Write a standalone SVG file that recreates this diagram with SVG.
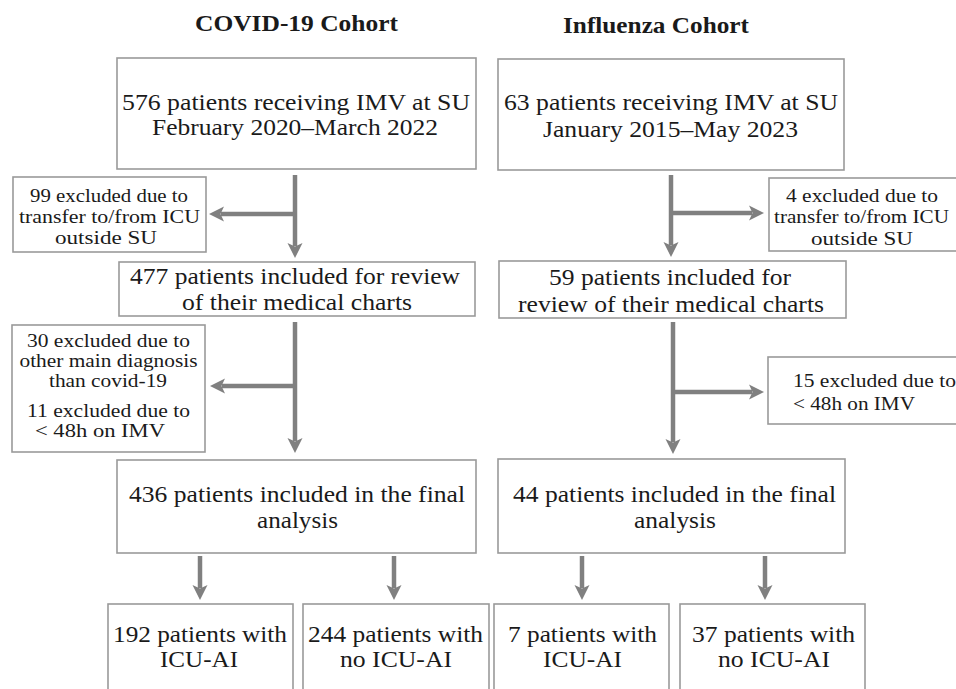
<svg xmlns="http://www.w3.org/2000/svg" width="956" height="689" viewBox="0 0 956 689">
<defs>
<style>
.box{fill:#fff;stroke:#9a9a9a;stroke-width:1.6}
text{font-family:"Liberation Serif","Times New Roman",serif;fill:#1a1a1a;text-anchor:middle}
.t{font-size:23px}
.s{font-size:19px}
.x{font-size:18px}
.sl{text-anchor:start}
.h{font-size:23.5px;font-weight:bold}
.a{stroke:#808080;stroke-width:4.5;fill:none;marker-end:url(#ah)}
</style>
<marker id="ah" markerUnits="userSpaceOnUse" markerWidth="16" markerHeight="16" viewBox="0 -8 16 16" refX="3" refY="0" orient="auto">
<path d="M0,-7.5 L15,0 L0,7.5 L3.5,0 Z" fill="#808080"/>
</marker>
</defs>
<rect width="956" height="689" fill="#fff"/>
<text class="h" x="296.5" y="31" textLength="203" lengthAdjust="spacingAndGlyphs">COVID-19 Cohort</text>
<text class="h" x="656" y="33" textLength="186" lengthAdjust="spacingAndGlyphs">Influenza Cohort</text>

<g id="connectors">
<path class="a" d="M295,175 V246"/>
<path class="a" d="M295,214 H221"/>
<path class="a" d="M295,322 V441"/>
<path class="a" d="M295,386 H222"/>
<path class="a" d="M671,175 V245"/>
<path class="a" d="M671,213 H752"/>
<path class="a" d="M673,322 V442"/>
<path class="a" d="M673,392 H752"/>
<path class="a" d="M200,556 V588"/>
<path class="a" d="M394,556 V588"/>
<path class="a" d="M582,556 V588"/>
<path class="a" d="M765,556 V588"/>
</g>

<g id="covid-start">
<rect class="box" x="117" y="58" width="359" height="111"/>
<text class="t" x="296" y="110" textLength="348" lengthAdjust="spacingAndGlyphs">576 patients receiving IMV at SU</text>
<text class="t" x="295" y="135" textLength="286" lengthAdjust="spacingAndGlyphs">February 2020–March 2022</text>
</g>
<g id="flu-start">
<rect class="box" x="498" y="59" width="346" height="111"/>
<text class="t" x="671" y="110" textLength="334" lengthAdjust="spacingAndGlyphs">63 patients receiving IMV at SU</text>
<text class="t" x="670.5" y="137" textLength="255" lengthAdjust="spacingAndGlyphs">January 2015–May 2023</text>
</g>
<g id="covid-excl1">
<rect class="box" x="13" y="177" width="193" height="75"/>
<text class="s" x="109" y="202" textLength="158" lengthAdjust="spacingAndGlyphs">99 excluded due to</text>
<text class="s" x="109.5" y="223" textLength="181" lengthAdjust="spacingAndGlyphs">transfer to/from ICU</text>
<text class="s" x="106" y="244" textLength="102" lengthAdjust="spacingAndGlyphs">outside SU</text>
</g>
<g id="flu-excl1">
<rect class="box" x="769" y="178" width="200" height="73"/>
<text class="s" x="862" y="202" textLength="152" lengthAdjust="spacingAndGlyphs">4 excluded due to</text>
<text class="s" x="861.5" y="223" textLength="175" lengthAdjust="spacingAndGlyphs">transfer to/from ICU</text>
<text class="s" x="862" y="245" textLength="102" lengthAdjust="spacingAndGlyphs">outside SU</text>
</g>
<g id="covid-review">
<rect class="box" x="119" y="262" width="356" height="54"/>
<text class="t" x="295" y="284" textLength="330" lengthAdjust="spacingAndGlyphs">477 patients included for review</text>
<text class="t" x="297" y="310" textLength="230" lengthAdjust="spacingAndGlyphs">of their medical charts</text>
</g>
<g id="flu-review">
<rect class="box" x="499" y="261" width="347" height="57"/>
<text class="t" x="670" y="285" textLength="242" lengthAdjust="spacingAndGlyphs">59 patients included for</text>
<text class="t" x="671" y="312" textLength="306" lengthAdjust="spacingAndGlyphs">review of their medical charts</text>
</g>
<g id="covid-excl2">
<rect class="box" x="12" y="325" width="193" height="127"/>
<text class="x" x="108.5" y="347" textLength="163" lengthAdjust="spacingAndGlyphs">30 excluded due to</text>
<text class="x" x="108.5" y="367" textLength="178" lengthAdjust="spacingAndGlyphs">other main diagnosis</text>
<text class="x" x="108" y="387" textLength="118" lengthAdjust="spacingAndGlyphs">than covid-19</text>
<text class="x" x="108.5" y="417" textLength="163" lengthAdjust="spacingAndGlyphs">11 excluded due to</text>
<text class="x" x="100" y="437" textLength="130" lengthAdjust="spacingAndGlyphs">&lt; 48h on IMV</text>
</g>
<g id="flu-excl2">
<rect class="box" x="768" y="357" width="200" height="67"/>
<text class="s sl" x="793" y="387" textLength="163" lengthAdjust="spacingAndGlyphs">15 excluded due to</text>
<text class="s sl" x="793" y="410" textLength="122" lengthAdjust="spacingAndGlyphs">&lt; 48h on IMV</text>
</g>
<g id="covid-final">
<rect class="box" x="117" y="460" width="359" height="93"/>
<text class="t" x="297" y="502" textLength="336" lengthAdjust="spacingAndGlyphs">436 patients included in the final</text>
<text class="t" x="297.5" y="528" textLength="81" lengthAdjust="spacingAndGlyphs">analysis</text>
</g>
<g id="flu-final">
<rect class="box" x="498" y="459" width="347" height="94"/>
<text class="t" x="674.5" y="502" textLength="323" lengthAdjust="spacingAndGlyphs">44 patients included in the final</text>
<text class="t" x="675" y="528" textLength="82" lengthAdjust="spacingAndGlyphs">analysis</text>
</g>
<g id="covid-ai">
<rect class="box" x="108" y="604" width="185" height="100"/>
<text class="t" x="200" y="642" textLength="174" lengthAdjust="spacingAndGlyphs">192 patients with</text>
<text class="t" x="199" y="667" textLength="78" lengthAdjust="spacingAndGlyphs">ICU-AI</text>
</g>
<g id="covid-noai">
<rect class="box" x="303" y="604" width="186" height="100"/>
<text class="t" x="395.5" y="642" textLength="175" lengthAdjust="spacingAndGlyphs">244 patients with</text>
<text class="t" x="396" y="667" textLength="112" lengthAdjust="spacingAndGlyphs">no ICU-AI</text>
</g>
<g id="flu-ai">
<rect class="box" x="494" y="604" width="175" height="100"/>
<text class="t" x="582.5" y="642" textLength="149" lengthAdjust="spacingAndGlyphs">7 patients with</text>
<text class="t" x="582.5" y="667" textLength="79" lengthAdjust="spacingAndGlyphs">ICU-AI</text>
</g>
<g id="flu-noai">
<rect class="box" x="680" y="604" width="185" height="100"/>
<text class="t" x="773.5" y="642" textLength="163" lengthAdjust="spacingAndGlyphs">37 patients with</text>
<text class="t" x="774" y="667" textLength="112" lengthAdjust="spacingAndGlyphs">no ICU-AI</text>
</g>
</svg>
